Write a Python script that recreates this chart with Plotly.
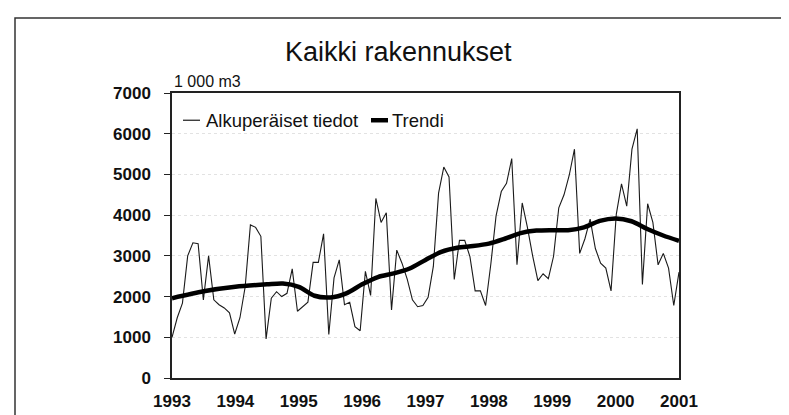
import plotly.graph_objects as go

# Monthly values, Jan 1993 .. Feb 2001 (1 000 m3)
original_values = [
    1000, 1480, 1840, 3000, 3320, 3300, 1920, 3000, 1920, 1800, 1720, 1600,   # 1993
    1080, 1480, 2240, 3760, 3700, 3480, 960, 1960, 2120, 2000, 2080, 2680,    # 1994
    1640, 1760, 1864, 2840, 2840, 3540, 1070, 2460, 2900, 1800, 1860, 1260,   # 1995
    1160, 2620, 2030, 4410, 3820, 4060, 1670, 3140, 2820, 2430, 1920, 1750,   # 1996
    1780, 1980, 2740, 4540, 5180, 4940, 2420, 3380, 3380, 2980, 2140, 2140,   # 1997
    1780, 2800, 3980, 4580, 4780, 5390, 2780, 4300, 3700, 3000, 2390, 2560,   # 1998
    2440, 2990, 4180, 4500, 4980, 5620, 3060, 3420, 3900, 3180, 2820, 2700,   # 1999
    2140, 4020, 4770, 4220, 5620, 6120, 2300, 4280, 3820, 2780, 3060, 2700,   # 2000
    1780, 2600,                                                               # 2001
]

trend_years = [1993.0, 1993.5, 1994.0, 1994.5, 1994.75, 1995.0, 1995.25, 1995.5,
               1995.75, 1996.0, 1996.25, 1996.5, 1996.75, 1997.0, 1997.25, 1997.5,
               1997.75, 1998.0, 1998.25, 1998.5, 1998.75, 1999.0, 1999.25, 1999.5,
               1999.75, 2000.0, 2000.25, 2000.5, 2000.75, 2001.0]
trend_values = [1960, 2130, 2240, 2300, 2320, 2240, 2020, 1980,
                2080, 2300, 2480, 2570, 2690, 2900, 3100, 3200,
                3240, 3300, 3420, 3560, 3620, 3630, 3630, 3700,
                3860, 3920, 3850, 3660, 3500, 3370]

year_ticks = [1993, 1994, 1995, 1996, 1997, 1998, 1999, 2000, 2001]
y_ticks = [0, 1000, 2000, 3000, 4000, 5000, 6000, 7000]

title_text = "Kaikki rakennukset"
unit_text = "1 000 m3"
series_names = ["Alkuperäiset tiedot", "Trendi"]

n = len(original_values)
x_orig = [1993 + i * 8 / (n - 1) for i in range(n)]

FONT = "Liberation Sans, Arial, sans-serif"

fig = go.Figure()
fig.add_trace(go.Scatter(x=x_orig, y=original_values, mode="lines",
                         line=dict(color="#1a1a1a", width=1.1),
                         name=series_names[0], showlegend=False))
fig.add_trace(go.Scatter(x=trend_years, y=trend_values, mode="lines",
                         line=dict(color="#000000", width=4.5, shape="spline", smoothing=0.8),
                         name=series_names[1], showlegend=False))

W, H = 789, 415
L, R, T, B = 164, 671, 85, 378
pw, ph = R - L, B - T

def px(x):
    return (x - L) / pw

def py(y):
    return (B - y) / ph

fig.update_layout(
    width=W, height=H,
    margin=dict(l=L, r=W - R, t=T, b=H - B),
    paper_bgcolor="white", plot_bgcolor="white",
    showlegend=False,
    font=dict(family=FONT, color="#111"),
)
fig.update_xaxes(range=[1993, 2001], tickvals=year_ticks,
                 ticktext=[str(v) for v in year_ticks],
                 showgrid=False, zeroline=False, ticks="",
                 showline=True, mirror=True, linecolor="#222", linewidth=1.5,
                 tickfont=dict(family=FONT, size=17, color="#111", weight="bold"),
                 ticklabelstandoff=7)
fig.update_yaxes(range=[0, 7000], tickvals=y_ticks,
                 showgrid=True, gridcolor="#e2e2e2", griddash="dot", gridwidth=1,
                 zeroline=False, ticks="outside", ticklen=6, tickcolor="#222",
                 showline=True, mirror=True, linecolor="#222", linewidth=1.5,
                 tickfont=dict(family=FONT, size=17, color="#111", weight="bold"),
                 ticklabelstandoff=10)

shapes = [
    # outer frame
    dict(type="rect", xref="paper", yref="paper",
         x0=px(7), x1=px(783), y0=py(430), y1=py(8),
         line=dict(color="#333", width=1.5), fillcolor="rgba(0,0,0,0)", layer="below"),
    # legend samples
    dict(type="line", xref="paper", yref="paper",
         x0=px(175), x1=px(192), y0=py(113), y1=py(113),
         line=dict(color="#1a1a1a", width=1.2)),
    dict(type="line", xref="paper", yref="paper",
         x0=px(363), x1=px(380), y0=py(113), y1=py(113),
         line=dict(color="#000", width=4.5)),
]
annotations = [
    dict(text=title_text, xref="paper", yref="paper", x=px(390), y=py(43),
         xanchor="center", yanchor="middle", showarrow=False,
         font=dict(family=FONT, size=27, color="#111")),
    dict(text=unit_text, xref="paper", yref="paper", x=px(164), y=py(73),
         xanchor="left", yanchor="middle", showarrow=False,
         font=dict(family=FONT, size=16, color="#111")),
    dict(text=series_names[0], xref="paper", yref="paper", x=px(196), y=py(113),
         xanchor="left", yanchor="middle", showarrow=False,
         font=dict(family=FONT, size=18.5, color="#111")),
    dict(text=series_names[1], xref="paper", yref="paper", x=px(382), y=py(113),
         xanchor="left", yanchor="middle", showarrow=False,
         font=dict(family=FONT, size=18.5, color="#111")),
]
fig.update_layout(shapes=shapes, annotations=annotations)

fig.write_html("out.html")
